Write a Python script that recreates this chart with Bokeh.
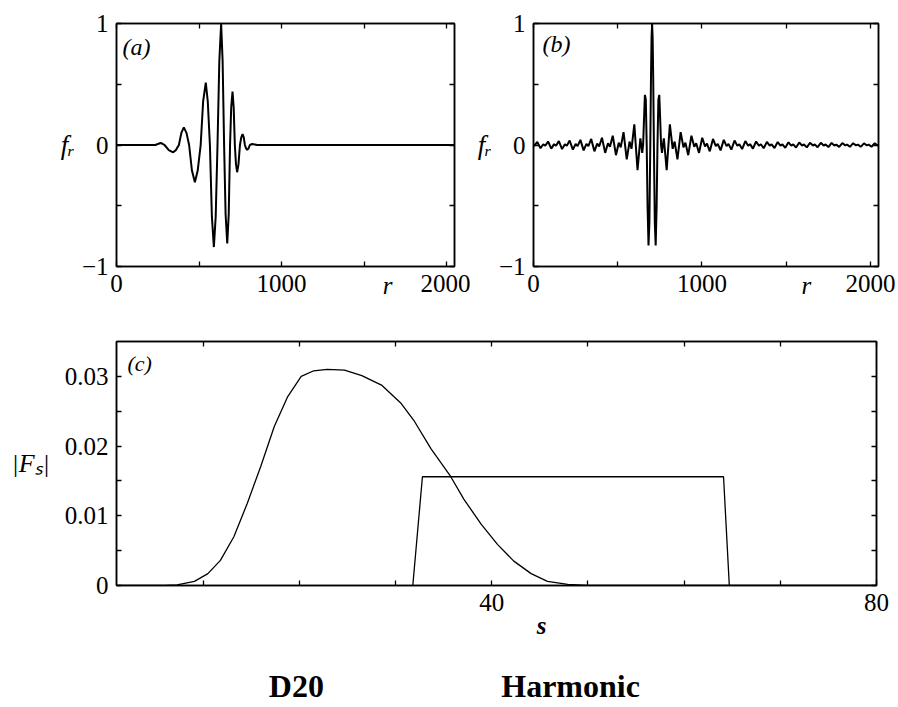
from bokeh.plotting import figure
from bokeh.models import Range1d, LinearAxis, FixedTicker, Label
from bokeh.layouts import column, row
from bokeh.embed import file_html
from bokeh.resources import INLINE

# ---------------- data ----------------
# (a) D20 wavelet, f_r against r
r_a = [0, 235, 251, 267, 279, 291, 317, 343, 360, 378, 393, 408, 424, 440,
       457, 475, 492, 510, 525, 541, 553, 566, 578, 590, 601, 612, 623, 634,
       643, 652, 661, 671, 680, 688, 695, 703, 710, 717, 724, 731, 739, 748,
       756, 764, 771, 778, 785, 792, 800, 808, 822, 853, 2048]
f_a = [0, 0, 0.008, 0.016, 0.010, 0, -0.042, -0.060, -0.042, 0, 0.100, 0.145, 0.100, 0,
       -0.210, -0.306, -0.210, 0, 0.360, 0.514, 0.360, 0, -0.590, -0.840, -0.590, 0, 0.690, 1.0,
       0.690, 0, -0.570, -0.810, -0.570, 0, 0.310, 0.440, 0.310, 0, -0.160, -0.224, -0.160, 0,
       0.063, 0.090, 0.063, 0, -0.028, -0.040, -0.028, 0, 0.008, 0, 0]

# (b) harmonic wavelet, f_r against r
r_b = [0,
       5.8, 22.5, 41.5, 58.2,
       69.8, 86.5, 105.5, 122.2,
       133.8, 150.5, 169.5, 186.2,
       197.8, 214.5, 233.5, 250.2,
       261.8, 278.5, 297.5, 314.2,
       325.8, 342.5, 361.5, 378.2,
       389.8, 406.5, 425.5, 442.2,
       453.8, 470.5, 489.5, 506.2,
       517.8, 534.5, 553.5, 570.2,
       581.8, 598.5, 617.5, 634.2,
       640, 645.3, 650.7, 656, 661.3, 666.7, 672, 677.1, 682.7, 688, 693.3, 697.6, 700.8,
       704,
       707.2, 710.4, 714.7, 720, 725.3, 730.9, 736, 741.3, 746.7, 752, 757.3, 762.7, 768,
       773.8, 790.5, 809.5, 826.2,
       837.8, 854.5, 873.5, 890.2,
       901.8, 918.5, 937.5, 954.2,
       965.8, 982.5, 1001.5, 1018.2,
       1029.8, 1046.5, 1065.5, 1082.2,
       1093.8, 1110.5, 1129.5, 1146.2,
       1157.8, 1174.5, 1193.5, 1210.2,
       1221.8, 1238.5, 1257.5, 1274.2,
       1285.8, 1302.5, 1321.5, 1338.2,
       1349.8, 1366.5, 1385.5, 1402.2,
       1413.8, 1430.5, 1449.5, 1466.2,
       1477.8, 1494.5, 1513.5, 1530.2,
       1541.8, 1558.5, 1577.5, 1594.2,
       1605.8, 1622.5, 1641.5, 1658.2,
       1669.8, 1686.5, 1705.5, 1722.2,
       1733.8, 1750.5, 1769.5, 1786.2,
       1797.8, 1814.5, 1833.5, 1850.2,
       1861.8, 1878.5, 1897.5, 1914.2,
       1925.8, 1942.5, 1961.5, 1978.2,
       1989.8, 2006.5, 2025.5, 2042.2,
       2048]
f_b = [0,
       -0.005, 0.026, -0.027, 0.006,
       -0.006, 0.029, -0.030, 0.007,
       -0.007, 0.032, -0.034, 0.007,
       -0.007, 0.037, -0.038, 0.008,
       -0.009, 0.042, -0.044, 0.010,
       -0.010, 0.050, -0.052, 0.012,
       -0.012, 0.060, -0.065, 0.014,
       -0.015, 0.077, -0.084, 0.019,
       -0.020, 0.106, -0.119, 0.028,
       -0.031, 0.170, -0.208, 0.054,
       0, -0.064, 0, 0.212, 0.413, 0.373, 0, -0.505, -0.827, -0.637, 0, 0.578, 0.887,
       1.0,
       0.887, 0.578, 0, -0.637, -0.827, -0.505, 0, 0.373, 0.413, 0.212, 0, -0.064, 0,
       0.054, -0.208, 0.170, -0.031,
       0.028, -0.119, 0.106, -0.020,
       0.019, -0.084, 0.077, -0.015,
       0.014, -0.065, 0.060, -0.012,
       0.012, -0.052, 0.050, -0.010,
       0.010, -0.044, 0.042, -0.009,
       0.008, -0.038, 0.037, -0.007,
       0.007, -0.034, 0.032, -0.007,
       0.007, -0.030, 0.029, -0.006,
       0.006, -0.027, 0.026, -0.005,
       0.005, -0.025, 0.024, -0.005,
       0.005, -0.023, 0.022, -0.005,
       0.005, -0.021, 0.021, -0.004,
       0.004, -0.020, 0.019, -0.004,
       0.004, -0.018, 0.018, -0.004,
       0.004, -0.017, 0.017, -0.004,
       0.003, -0.016, 0.016, -0.003,
       0.003, -0.015, 0.015, -0.003,
       0.003, -0.015, 0.014, -0.003,
       0.003, -0.014, 0.014, -0.003,
       0]

# (c) spectra |F_s| against s
s_d20 = [1, 6.0, 7.3, 9.1, 10.5, 11.8, 13.2, 14.6, 16.0, 17.4, 18.8, 20.2, 21.5, 22.9,
         24.7, 26.5, 28.6, 30.6, 31.9, 33.7, 35.75, 37.1, 38.9, 40.6, 42.3, 44.1,
         45.8, 47.9, 50, 80]
F_d20 = [0, 0, 0.0001, 0.0006, 0.0017, 0.0036, 0.0070, 0.0118, 0.0171, 0.0228, 0.0271,
         0.0300, 0.0308, 0.0310, 0.0309, 0.0301, 0.0287, 0.0261, 0.0237, 0.0196, 0.0156,
         0.0124, 0.0088, 0.0059, 0.0035, 0.0017, 0.0006, 0.00015, 0, 0]
s_harm = [31.8, 32.8, 64.1, 64.7]
F_harm = [0, 0.0156, 0.0156, 0]

r_ticks = [0, 1000, 2000]
r_minor = [0, 500, 1000, 1500, 2000]
r_labels = {0: "0", 1000: "1000", 2000: "2000"}
f_ticks = [-1, 0, 1]
f_minor = [-1, -0.5, 0, 0.5, 1]
f_labels = {-1: "\u22121", 0: "0", 1: "1"}
s_ticks = [40, 80]
s_minor = [10, 20, 30, 40, 50, 60, 70, 80]
s_labels = {40: "40", 80: "80"}
F_ticks = [0, 0.01, 0.02, 0.03]
F_minor = [0, 0.005, 0.01, 0.015, 0.02, 0.025, 0.03]
F_labels = {0: "0", 0.01: "0.01", 0.02: "0.02", 0.03: "0.03"}
captions = ["D20", "Harmonic"]
caption_s = [19.7, 48.2]

FONT = "Liberation Serif"
LBL = "25px"


def make_fig(w, h, xr, yr, bl, br, bt, bb):
    p = figure(width=w, height=h, x_range=Range1d(*xr), y_range=Range1d(*yr),
               output_backend="svg", toolbar_location=None, tools="",
               min_border_left=bl, min_border_right=br, min_border_top=bt,
               min_border_bottom=bb, x_axis_type=None, y_axis_type=None)
    p.grid.visible = False
    p.outline_line_color = "black"
    p.outline_line_width = 1.5
    p.background_fill_color = "white"
    p.border_fill_color = "white"
    return p


def add_axes(p, xt, xm, yt, ym, xlab, ylab):
    axes = {}
    for side, tk, mn, lab in (("below", xt, xm, xlab), ("above", xt, xm, None),
                              ("left", yt, ym, ylab), ("right", yt, ym, None)):
        ax = LinearAxis(ticker=FixedTicker(ticks=tk, minor_ticks=mn))
        ax.axis_line_color = "black"
        ax.axis_line_width = 1.5
        ax.major_tick_in = 0
        ax.major_tick_out = 0
        ax.minor_tick_in = 5
        ax.minor_tick_out = 0
        ax.minor_tick_line_width = 1.3
        ax.major_label_text_font = FONT
        if side in ("above", "right"):
            ax.major_label_text_font_size = "1px"
            ax.major_label_text_color = None
            ax.major_label_standoff = 0
        else:
            ax.major_label_text_font_size = LBL
            ax.major_label_text_color = "black"
            ax.major_label_standoff = 8
            ax.major_label_overrides = lab
        p.add_layout(ax, side)
        axes[side] = ax
    return axes


def side_label(ax, text, size, standoff):
    ax.axis_label = text
    ax.axis_label_orientation = "horizontal"
    ax.axis_label_text_font = FONT
    ax.axis_label_text_font_style = "italic"
    ax.axis_label_text_font_size = size
    ax.axis_label_text_color = "black"
    ax.axis_label_standoff = standoff


def text_axis(p, pos, texts, size, style, standoff):
    ax = LinearAxis(ticker=FixedTicker(ticks=pos, minor_ticks=[]),
                    major_label_overrides=dict(zip(pos, texts)),
                    axis_line_color=None, major_tick_line_color=None,
                    minor_tick_line_color=None, major_label_text_font=FONT,
                    major_label_text_font_size=size, major_label_text_color="black",
                    major_label_text_font_style=style, major_label_standoff=standoff)
    p.add_layout(ax, "below")
    return ax


def corner_label(p, x, y, text, size):
    p.add_layout(Label(x=x, y=y, text=text, text_font=FONT, text_font_size=size,
                       text_font_style="italic", text_baseline="middle",
                       text_color="black"))


# ---- (a)
p1 = make_fig(470, 310, (0, 2048), (-1, 1), 116, 16, 22, 44)
ax1 = add_axes(p1, r_ticks, r_minor, f_ticks, f_minor, r_labels, f_labels)
side_label(ax1["left"], "f\u1d63", "27px", 4)
text_axis(p1, [1642], ["r"], LBL, "italic", -29)
p1.line(r_a, f_a, line_color="black", line_width=2)
corner_label(p1, 36, 0.81, "(a)", "24px")

# ---- (b)
p2 = make_fig(428, 310, (0, 2048), (-1, 1), 63, 20, 23, 44)
ax2 = add_axes(p2, r_ticks, r_minor, f_ticks, f_minor, r_labels, f_labels)
side_label(ax2["left"], "f\u1d63", "27px", 4)
text_axis(p2, [1620], ["r"], LBL, "italic", -29)
p2.line(r_b, f_b, line_color="black", line_width=2)
corner_label(p2, 53, 0.835, "(b)", "24px")

# ---- (c)
p3 = make_fig(898, 397, (1, 80), (0, 0.035), 116, 22, 31, 122)
ax3 = add_axes(p3, s_ticks, s_minor, F_ticks, F_minor, s_labels, F_labels)
side_label(ax3["left"], "|F\u209b|", "26px", 12)
text_axis(p3, [45.2], ["s"], LBL, "bold italic", -8)
text_axis(p3, caption_s, captions, "32px", "bold", 20)
p3.line(s_d20, F_d20, line_color="black", line_width=1.3)
p3.line(s_harm, F_harm, line_color="black", line_width=1.3)
corner_label(p3, 2.14, 0.0318, "(c)", "22px")

layout = column(row(p1, p2, spacing=0), p3, spacing=0)
open("out.html", "w").write(file_html(layout, INLINE))
